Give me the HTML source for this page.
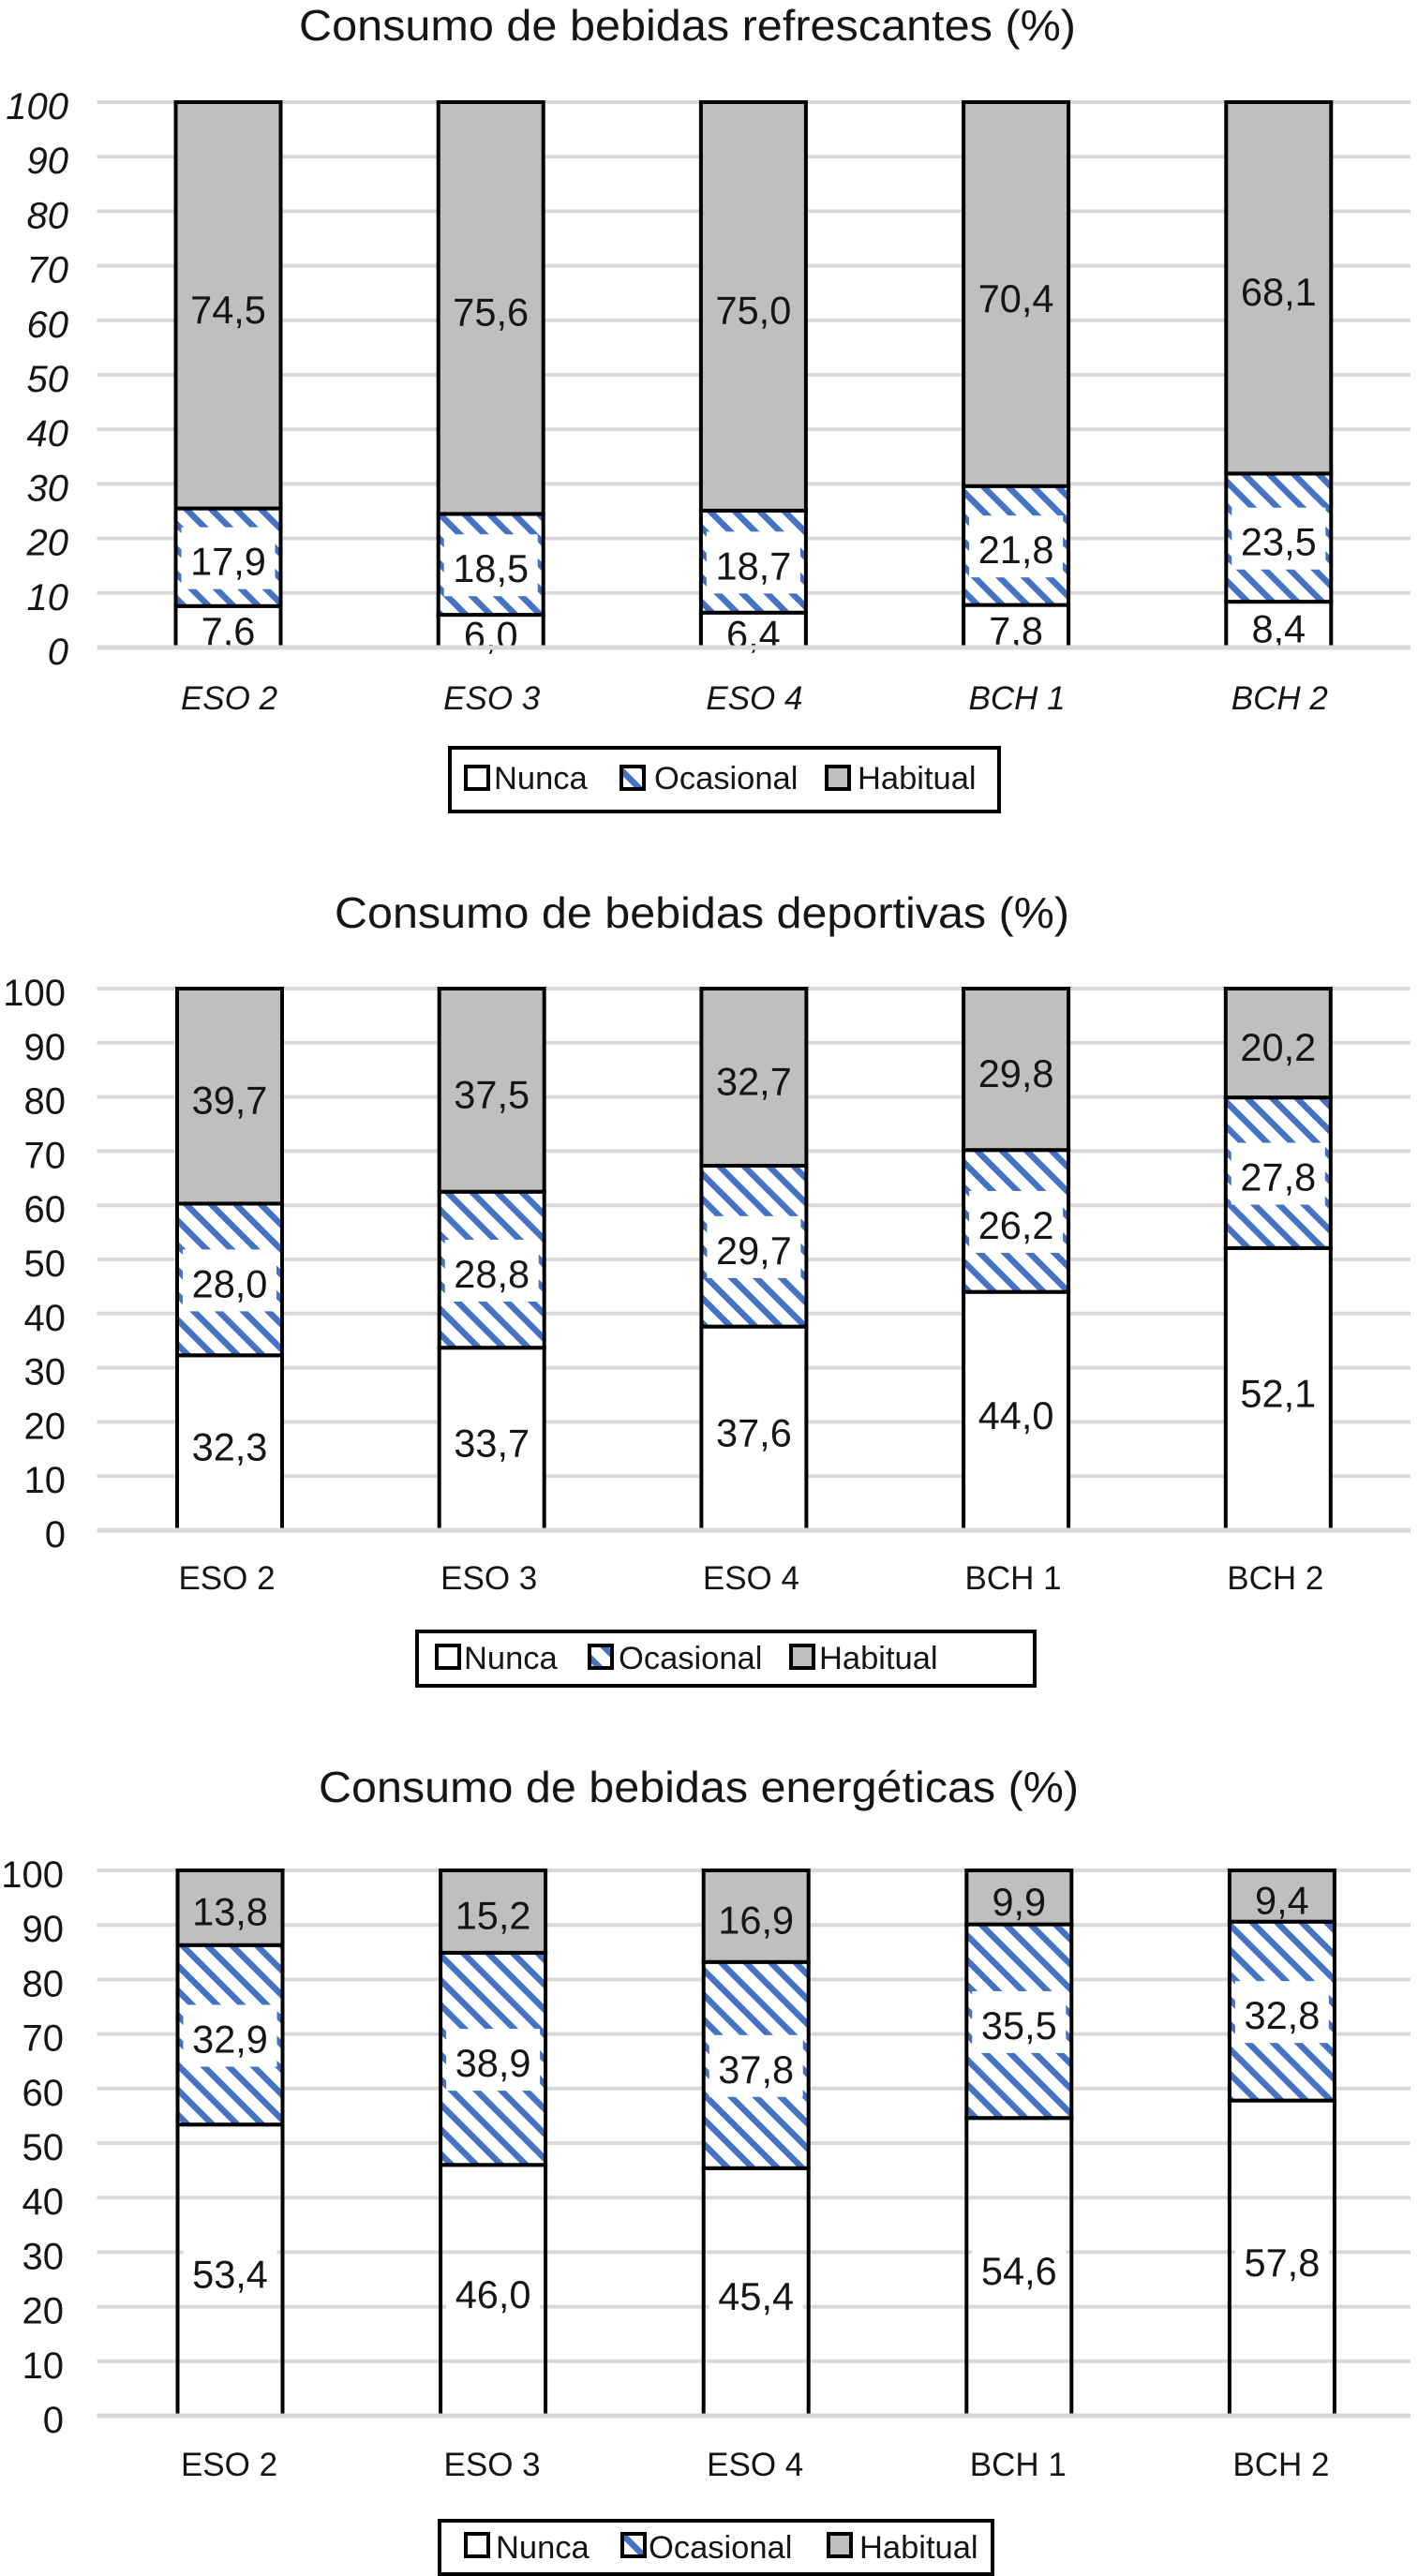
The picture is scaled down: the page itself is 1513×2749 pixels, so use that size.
<!DOCTYPE html>
<html lang="es">
<head>
<meta charset="utf-8">
<title>Consumo de bebidas (%)</title>
<style>
html,body{margin:0;padding:0;background:#fff;}
svg{display:block;}
text{font-family:"Liberation Sans",Arial,sans-serif;fill:#151515;}
</style>
</head>
<body>
<svg id="figure" xmlns="http://www.w3.org/2000/svg" width="1513" height="2749" viewBox="0 0 1513 2749">
  <defs>
    <pattern id="hatch" patternUnits="userSpaceOnUse" width="26.5" height="26.5">
      <rect width="26.5" height="26.5" fill="#ffffff"></rect>
      <path d="M-6.6,-6.6L33.1,33.1M-6.6,19.9L6.6,33.1M19.9,-6.6L33.1,6.6" stroke="#4472c4" stroke-width="6.6" fill="none"></path>
    </pattern>
  </defs>
</svg>
<script>
const categories = ['ESO 2', 'ESO 3', 'ESO 4', 'BCH 1', 'BCH 2'];
const yTicks = [0, 10, 20, 30, 40, 50, 60, 70, 80, 90, 100];
const seriesNames = ['Nunca', 'Ocasional', 'Habitual'];

const refrescantesNunca = [7.6, 6.0, 6.4, 7.8, 8.4];
const refrescantesOcasional = [17.9, 18.5, 18.7, 21.8, 23.5];
const refrescantesHabitual = [74.5, 75.6, 75.0, 70.4, 68.1];

const deportivasNunca = [32.3, 33.7, 37.6, 44.0, 52.1];
const deportivasOcasional = [28.0, 28.8, 29.7, 26.2, 27.8];
const deportivasHabitual = [39.7, 37.5, 32.7, 29.8, 20.2];

const energeticasNunca = [53.4, 46.0, 45.4, 54.6, 57.8];
const energeticasOcasional = [32.9, 38.9, 37.8, 35.5, 32.8];
const energeticasHabitual = [13.8, 15.2, 16.9, 9.9, 9.4];

const charts = [
  {
    key: 'refrescantes', title: 'Consumo de bebidas refrescantes (%)', titleX: 319, titleY: 43, titleLen: 829,
    nunca: refrescantesNunca, ocasional: refrescantesOcasional, habitual: refrescantesHabitual,
    y100: 109, y0: 691, firstX: 243.5, stepX: 280.2, italic: true, nuncaFill: '#ffffff', nuncaBox: false,
    tickX: 73, catY: 757, catDx: 1,
    legend: { x: 480, y: 798, w: 586, h: 68, keyY: 818, textY: 842,
      keys: [497, 663, 882], texts: [527, 698, 915] }
  },
  {
    key: 'deportivas', title: 'Consumo de bebidas deportivas (%)', titleX: 357, titleY: 990, titleLen: 784,
    nunca: deportivasNunca, ocasional: deportivasOcasional, habitual: deportivasHabitual,
    y100: 1055, y0: 1633, firstX: 245, stepX: 279.7, italic: false, nuncaFill: '#ffffff', nuncaBox: false,
    tickX: 70, catY: 1696, catDx: -3,
    legend: { x: 445, y: 1741, w: 659, h: 58, keyY: 1756, textY: 1781,
      keys: [466, 629, 844], texts: [495, 660, 874] }
  },
  {
    key: 'energeticas', title: 'Consumo de bebidas energéticas (%)', titleX: 340, titleY: 1923, titleLen: 811,
    nunca: energeticasNunca, ocasional: energeticasOcasional, habitual: energeticasHabitual,
    y100: 1996, y0: 2578, firstX: 245.5, stepX: 280.6, italic: false, nuncaFill: 'none', nuncaBox: true,
    tickX: 68, catY: 2642, catDx: -1,
    legend: { x: 469, y: 2690, w: 590, h: 57, keyY: 2704, textY: 2730,
      keys: [497, 664, 884], texts: [529, 692, 917] }
  }
];

const svg = document.getElementById('figure');
const NS = 'http://www.w3.org/2000/svg';
const BAR_W = 112;
const STROKE = 4;
const GRID_W = 4;

function make(tag, attrs, parent, content) {
  const node = document.createElementNS(NS, tag);
  Object.keys(attrs).forEach(function (k) { node.setAttribute(k, attrs[k]); });
  if (content !== undefined) node.textContent = content;
  parent.appendChild(node);
  return node;
}
function fmt(v) { return v.toFixed(1).replace('.', ','); }

charts.forEach(function (c) {
  const yScale = function (v) { return c.y0 - (c.y0 - c.y100) * v / 100; };
  const xCenter = function (i) { return c.firstX + c.stepX * i; };
  const style = c.italic ? 'italic' : 'normal';

  const g = make('g', {}, svg);
  
  

  const title = make('text', {
    x: c.titleX, y: c.titleY, 'font-size': 46, textLength: c.titleLen, lengthAdjust: 'spacingAndGlyphs'
  }, g, c.title);
  
  

  yTicks.forEach(function (t) {
    const label = make('text', {
      x: c.tickX, y: yScale(t) + 18, 'font-size': 40, 'text-anchor': 'end', 'font-style': style
    }, g, String(t));
    
    
    if (t !== 0) {
      const grid = make('line', {
        x1: 103.5, x2: 1505, y1: yScale(t), y2: yScale(t), stroke: '#d9d9d9', 'stroke-width': GRID_W
      }, g);
      
      
    }
  });

  const deferred = [];
  categories.forEach(function (cat, i) {
    const left = xCenter(i) - BAR_W / 2;
    const stack = [
      { name: 'nunca', value: c.nunca[i], fill: c.nuncaFill, box: c.nuncaBox },
      { name: 'ocasional', value: c.ocasional[i], fill: 'url(#hatch)', box: true },
      { name: 'habitual', value: c.habitual[i], fill: '#bfbfbf', box: false }
    ];
    let base = 0;
    stack.forEach(function (s) {
      const top = Math.min(100, base + s.value);
      const rect = make('rect', {
        x: left, y: yScale(top), width: BAR_W, height: yScale(base) - yScale(top),
        fill: s.fill, stroke: '#000', 'stroke-width': STROKE
      }, g);
      
      
      deferred.push({ s: s, mid: yScale(base + s.value / 2), cx: xCenter(i), cat: cat });
      base = top;
    });

    const catLabel = make('text', {
      x: xCenter(i) + c.catDx, y: c.catY, 'font-size': 35, 'text-anchor': 'middle', 'font-style': style
    }, g, cat);
    
    
  });

  deferred.forEach(function (d) {
    if (d.s.box) {
      const box = make('rect', { x: d.cx - 50, y: d.mid - 32, width: 100, height: 66, fill: '#ffffff' }, g);
      
      
    }
    const label = make('text', {
      x: d.cx, y: d.mid + 19, 'font-size': 41.5, 'text-anchor': 'middle'
    }, g, fmt(d.s.value));
    
    
  });

  const zero = make('line', {
    x1: 103.5, x2: 1505, y1: yScale(0), y2: yScale(0), stroke: '#d9d9d9', 'stroke-width': GRID_W + 1
  }, g);
  
  

  const L = c.legend;
  const lg = make('g', {}, g);
  
  
  const frame = make('rect', {
    x: L.x, y: L.y, width: L.w, height: L.h, fill: '#fff', stroke: '#000', 'stroke-width': 4
  }, lg);
  
  
  const keyFills = ['#ffffff', 'url(#hatch)', '#bfbfbf'];
  seriesNames.forEach(function (n, i) {
    const key = make('rect', {
      x: L.keys[i], y: L.keyY, width: 24, height: 24, fill: keyFills[i], stroke: '#000', 'stroke-width': 4
    }, lg);
    
    
    const txt = make('text', { x: L.texts[i], y: L.textY, 'font-size': 34.5 }, lg, n);
    
    
  });
});
</script>
</body>
</html>
